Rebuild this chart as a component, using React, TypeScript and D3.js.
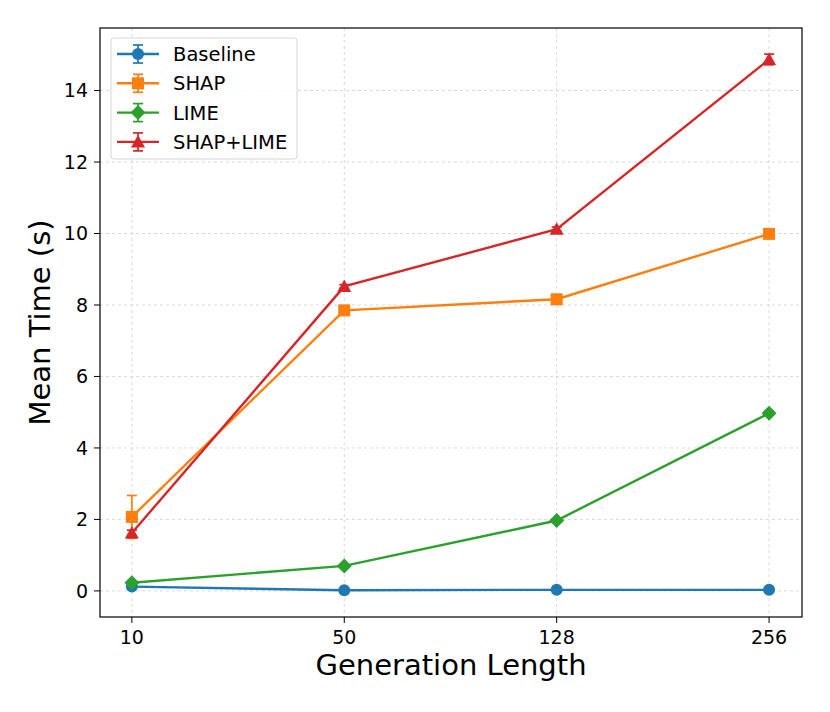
import React from "react";
import * as d3 from "d3";

const categories = ["10", "50", "128", "256"];
const seriesNames = ["Baseline", "SHAP", "LIME", "SHAP+LIME"];
const colors = ["#1f77b4", "#ff7f0e", "#2ca02c", "#d62728"];
const markers = ["circle", "square", "diamond", "triangle"];
const baseline = [0.12, 0.02, 0.03, 0.03];
const baselineErr = [0.02, 0.01, 0.01, 0.01];
const shap = [2.07, 7.85, 8.16, 9.99];
const shapErr = [0.6, 0.05, 0.05, 0.05];
const lime = [0.23, 0.7, 1.97, 4.97];
const limeErr = [0.02, 0.03, 0.04, 0.05];
const shapLime = [1.62, 8.52, 10.12, 14.87];
const shapLimeErr = [0.08, 0.05, 0.06, 0.15];
const yTicks = [0, 2, 4, 6, 8, 10, 12, 14];

const values = [baseline, shap, lime, shapLime];
const errs = [baselineErr, shapErr, limeErr, shapLimeErr];

const W = 830, H = 712;
const L = 100, R = 802, T = 28, B = 617;
const font = "DejaVu Sans, sans-serif";

function Marker({ type, x, y, color }: { type: string; x: number; y: number; color: string }) {
  if (type === "circle") return <circle cx={x} cy={y} r={6} fill={color} />;
  if (type === "square") return <rect x={x - 6} y={y - 6} width={12} height={12} fill={color} />;
  if (type === "diamond") {
    const s = 7.5;
    return <path d={`M${x},${y - s}L${x + s},${y}L${x},${y + s}L${x - s},${y}Z`} fill={color} />;
  }
  const s = 7;
  return <path d={`M${x},${y - s}L${x + s},${y + s * 0.8}L${x - s},${y + s * 0.8}Z`} fill={color} />;
}

export default function App() {
  const x = d3.scaleLinear().domain([-0.15, 3.155]).range([L, R]);
  const y = d3.scaleLinear().domain([-0.73, 15.75]).range([B, T]);
  const line = d3.line<number>().x((_, i) => x(i)).y((d) => y(d));
  const cap = 5;

  return (
    <svg width={W} height={H} style={{ position: "absolute", left: 0, top: 0 }}>
      <rect width={W} height={H} fill="white" />
      {categories.map((c, i) => (
        <line key={"gx" + c} x1={x(i)} x2={x(i)} y1={T} y2={B} stroke="#d0d0d0" strokeWidth={0.8} strokeDasharray="3,3" />
      ))}
      {yTicks.map((t) => (
        <line key={"gy" + t} x1={L} x2={R} y1={y(t)} y2={y(t)} stroke="#d0d0d0" strokeWidth={0.8} strokeDasharray="3,3" />
      ))}
      {values.map((vals, si) => (
        <g key={seriesNames[si]}>
          <path d={line(vals) || ""} fill="none" stroke={colors[si]} strokeWidth={2.4} />
          {vals.map((v, i) => {
            const e = errs[si][i];
            return (
              <g key={i} stroke={colors[si]} strokeWidth={1.7}>
                <line x1={x(i)} x2={x(i)} y1={y(v - e)} y2={y(v + e)} />
                <line x1={x(i) - cap} x2={x(i) + cap} y1={y(v - e)} y2={y(v - e)} />
                <line x1={x(i) - cap} x2={x(i) + cap} y1={y(v + e)} y2={y(v + e)} />
              </g>
            );
          })}
          {vals.map((v, i) => (
            <Marker key={"m" + i} type={markers[si]} x={x(i)} y={y(v)} color={colors[si]} />
          ))}
        </g>
      ))}
      <rect x={L} y={T} width={R - L} height={B - T} fill="none" stroke="black" strokeWidth={1.2} />
      {yTicks.map((t) => (
        <g key={"yt" + t}>
          <line x1={L - 6} x2={L} y1={y(t)} y2={y(t)} stroke="black" strokeWidth={1} />
          <text x={L - 12} y={y(t)} dy="0.36em" textAnchor="end" fontSize={19} fontFamily={font}>{t}</text>
        </g>
      ))}
      {categories.map((c, i) => (
        <g key={"xt" + c}>
          <line x1={x(i)} x2={x(i)} y1={B} y2={B + 6} stroke="black" strokeWidth={1} />
          <text x={x(i)} y={644} textAnchor="middle" fontSize={19} fontFamily={font}>{c}</text>
        </g>
      ))}
      <text x={(L + R) / 2} y={675} textAnchor="middle" fontSize={29} fontFamily={font}>Generation Length</text>
      <text transform={`translate(50,${(T + B) / 2}) rotate(-90)`} textAnchor="middle" fontSize={29} fontFamily={font}>Mean Time (s)</text>
      <rect x={111} y={38} width={186} height={121} rx={3} fill="white" fillOpacity={0.85} stroke="#d5d5d5" strokeWidth={1} />
      {seriesNames.map((n, i) => {
        const ly = 54 + i * 29.3;
        const lx = 138;
        return (
          <g key={"lg" + n}>
            <line x1={117} x2={159} y1={ly} y2={ly} stroke={colors[i]} strokeWidth={2.4} />
            <g stroke={colors[i]} strokeWidth={1.7}>
              <line x1={lx} x2={lx} y1={ly - 9} y2={ly + 9} />
              <line x1={lx - cap} x2={lx + cap} y1={ly - 9} y2={ly - 9} />
              <line x1={lx - cap} x2={lx + cap} y1={ly + 9} y2={ly + 9} />
            </g>
            <Marker type={markers[i]} x={lx} y={ly} color={colors[i]} />
            <text x={173} y={ly} dy="0.36em" fontSize={19.5} fontFamily={font}>{n}</text>
          </g>
        );
      })}
    </svg>
  );
}
